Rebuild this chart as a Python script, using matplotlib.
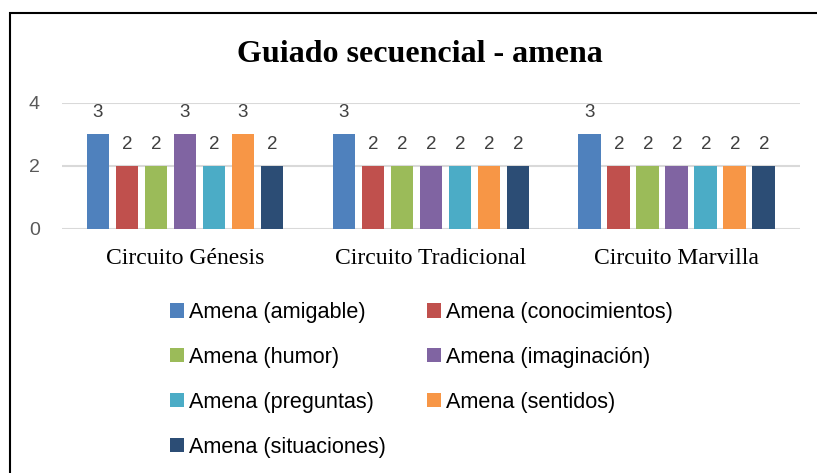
import numpy as np
from matplotlib import pyplot as plt
from matplotlib.patches import Rectangle

# datos
circuitos = ['Circuito Génesis', 'Circuito Tradicional', 'Circuito Marvilla']
series = ['Amena (amigable)', 'Amena (conocimientos)', 'Amena (humor)',
          'Amena (imaginación)', 'Amena (preguntas)', 'Amena (sentidos)',
          'Amena (situaciones)']
amigable = [3, 3, 3]
conocimientos = [2, 2, 2]
humor = [2, 2, 2]
imaginacion = [3, 2, 2]
preguntas = [2, 2, 2]
sentidos = [3, 2, 2]
situaciones = [2, 2, 2]
valores = [amigable, conocimientos, humor, imaginacion, preguntas, sentidos, situaciones]

colores = ['#4F81BD', '#C0504D', '#9BBB59', '#8064A2', '#4BACC6', '#F79646', '#2C4D75']

sans = 'Liberation Sans'
serif = 'Liberation Serif'

fig = plt.figure(figsize=(8.17, 4.73), dpi=100)
ax = fig.add_axes([0.0759, 0.5159, 0.903, 0.2664])

x = np.arange(len(circuitos))
paso = 0.1179
ancho = 0.0923
barras = []
for i, (vals, col) in enumerate(zip(valores, colores)):
    pos = x + (i - 3) * paso
    b = ax.bar(pos, vals, width=ancho, color=col, label=series[i], zorder=3)
    barras.append(b)
    for xp, v in zip(pos, vals):
        ax.annotate(str(v), (xp, v), xytext=(0, 9.5), textcoords='offset points',
                    ha='center', va='bottom', fontsize=13.5, color='#404040',
                    family=sans)

ax.set_xlim(-0.5, 2.5)
ax.set_ylim(0, 4)
ax.set_yticks([0, 2, 4])
ax.yaxis.grid(True, color='#D9D9D9', linewidth=1.5, zorder=0)
ax.set_axisbelow(True)
for s in ax.spines.values():
    s.set_visible(False)
ax.tick_params(axis='both', length=0)
ax.tick_params(axis='y', pad=16, labelsize=14, labelcolor='#595959')
ax.tick_params(axis='x', pad=14)
for t in ax.get_yticklabels():
    t.set_family(sans)
ax.set_xticks(x)
ax.set_xticklabels(circuitos, fontsize=17, family=serif, color='black')

fig.text(0.514, 0.884, 'Guiado secuencial - amena', ha='center', va='center',
         fontsize=23, fontweight='bold', family=serif)

# leyenda en orden por filas
orden = [0, 2, 4, 6, 1, 3, 5]
fig.legend([barras[i] for i in orden], [series[i] for i in orden],
           ncol=2, loc='upper left', bbox_to_anchor=(0.208, 0.3615),
           frameon=False, prop={'family': sans, 'size': 15.6},
           handlelength=0.65, handleheight=0.65, handletextpad=0.23,
           labelspacing=1.1, columnspacing=1.9, borderpad=0, borderaxespad=0)

# marco
fig.patches.append(Rectangle((10 / 817, -0.1), 1.1, 1 - 13 / 473 + 0.1,
                             transform=fig.transFigure, fill=False,
                             edgecolor='black', linewidth=1.5))

fig.savefig('out.png', dpi=100)
